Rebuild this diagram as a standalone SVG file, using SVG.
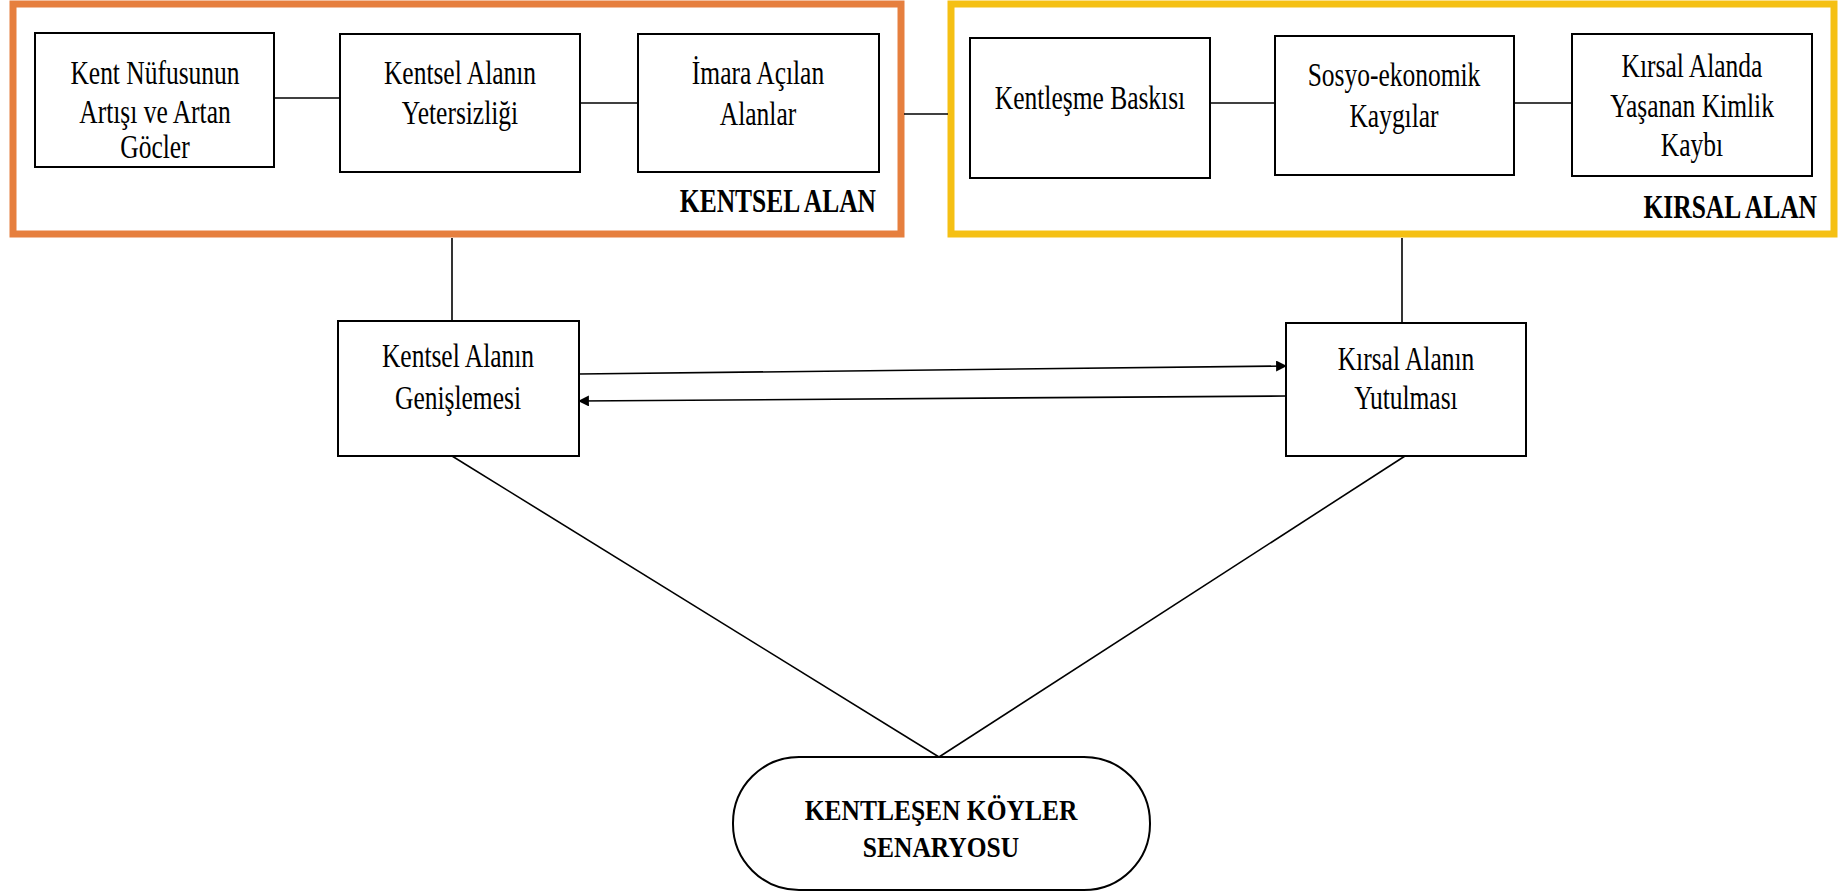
<svg xmlns="http://www.w3.org/2000/svg" width="1847" height="893" viewBox="0 0 1847 893">
<style>
.box{fill:#fff;stroke:#000;stroke-width:2}
.t{font-family:"Liberation Serif","Times New Roman",serif;font-size:25.5px;fill:#000;text-anchor:middle}
.b{font-family:"Liberation Serif","Times New Roman",serif;font-size:25.5px;font-weight:bold;fill:#000}
.ln{stroke:#000;stroke-width:1.6;fill:none}
</style>
<defs>
<marker id="ah" viewBox="0 0 10 10" refX="9" refY="5" markerWidth="11" markerHeight="11" markerUnits="userSpaceOnUse" orient="auto">
<path d="M0,0 L10,5 L0,10 Z" fill="#000"/>
</marker>
</defs>
<rect width="1847" height="893" fill="#fff"/>
<g id="kentsel-alan">
<rect x="13" y="4" width="888" height="230" fill="none" stroke="#E67F3E" stroke-width="7"/>
<text class="b" text-anchor="end" transform="translate(876,212) scale(1,1.28)">KENTSEL ALAN</text>
</g>
<g id="kirsal-alan">
<rect x="951" y="4" width="883" height="230" fill="none" stroke="#F5C014" stroke-width="7"/>
<text class="b" text-anchor="end" transform="translate(1817,218) scale(1,1.28)">KIRSAL ALAN</text>
</g>
<g id="connectors">
<line class="ln" x1="275" y1="98" x2="340" y2="98"/>
<line class="ln" x1="580" y1="103" x2="638" y2="103"/>
<line class="ln" x1="1210" y1="103" x2="1275" y2="103"/>
<line class="ln" x1="1514" y1="103" x2="1572" y2="103"/>
<line class="ln" x1="904" y1="114" x2="948" y2="114"/>
<line class="ln" x1="452" y1="238" x2="452" y2="321"/>
<line class="ln" x1="1402" y1="238" x2="1402" y2="323"/>
<line class="ln" x1="579" y1="374" x2="1286" y2="366" marker-end="url(#ah)"/>
<line class="ln" x1="1286" y1="396" x2="579" y2="401" marker-end="url(#ah)"/>
<line class="ln" x1="452" y1="456" x2="939" y2="757"/>
<line class="ln" x1="1405" y1="456" x2="939" y2="757"/>
</g>
<g id="n1">
<rect class="box" x="35" y="33" width="239" height="134"/>
<text class="t" transform="translate(155,84) scale(1,1.28)">Kent Nüfusunun</text>
<text class="t" transform="translate(155,123) scale(1,1.28)">Artışı ve Artan</text>
<text class="t" transform="translate(155,158) scale(1,1.28)">Göcler</text>
</g>
<g id="n2">
<rect class="box" x="340" y="34" width="240" height="138"/>
<text class="t" transform="translate(460,84) scale(1,1.28)">Kentsel Alanın</text>
<text class="t" transform="translate(460,124) scale(1,1.28)">Yetersizliği</text>
</g>
<g id="n3">
<rect class="box" x="638" y="34" width="241" height="138"/>
<text class="t" transform="translate(758,84) scale(1,1.28)">İmara Açılan</text>
<text class="t" transform="translate(758,125) scale(1,1.28)">Alanlar</text>
</g>
<g id="n4">
<rect class="box" x="970" y="38" width="240" height="140"/>
<text class="t" transform="translate(1090,109) scale(1,1.28)">Kentleşme Baskısı</text>
</g>
<g id="n5">
<rect class="box" x="1275" y="36" width="239" height="139"/>
<text class="t" transform="translate(1394,86) scale(1,1.28)">Sosyo-ekonomik</text>
<text class="t" transform="translate(1394,127) scale(1,1.28)">Kaygılar</text>
</g>
<g id="n6">
<rect class="box" x="1572" y="34" width="240" height="142"/>
<text class="t" transform="translate(1692,77) scale(1,1.28)">Kırsal Alanda</text>
<text class="t" transform="translate(1692,117) scale(1,1.28)">Yaşanan Kimlik</text>
<text class="t" transform="translate(1692,156) scale(1,1.28)">Kaybı</text>
</g>
<g id="n7">
<rect class="box" x="338" y="321" width="241" height="135"/>
<text class="t" transform="translate(458,367) scale(1,1.28)">Kentsel Alanın</text>
<text class="t" transform="translate(458,409) scale(1,1.28)">Genişlemesi</text>
</g>
<g id="n8">
<rect class="box" x="1286" y="323" width="240" height="133"/>
<text class="t" transform="translate(1406,370) scale(1,1.28)">Kırsal Alanın</text>
<text class="t" transform="translate(1406,409) scale(1,1.28)">Yutulması</text>
</g>
<g id="n9">
<rect class="box" x="733" y="757" width="417" height="133" rx="66" ry="66"/>
<text class="b" text-anchor="middle" transform="translate(941,820) scale(1,1.18)">KENTLEŞEN KÖYLER</text>
<text class="b" text-anchor="middle" transform="translate(941,857) scale(1,1.18)">SENARYOSU</text>
</g>
</svg>
